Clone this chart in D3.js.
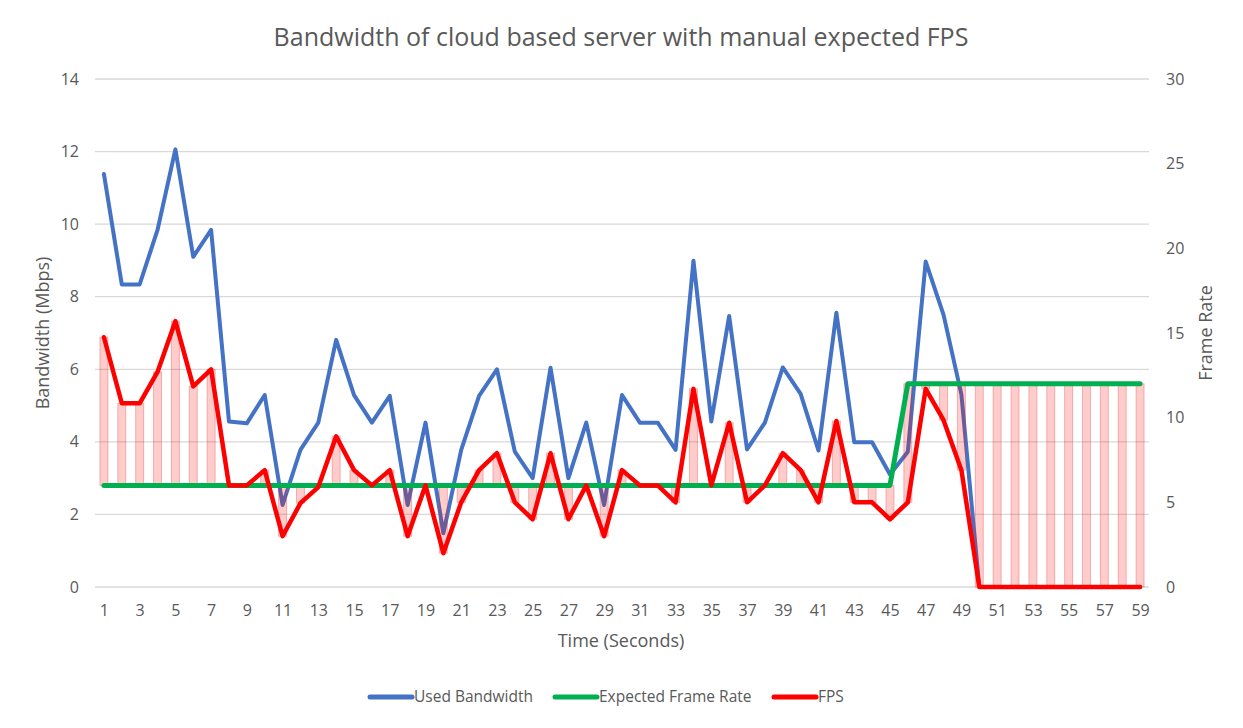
<!DOCTYPE html>
<html>
<head>
<meta charset="utf-8">
<script src="https://cdn.jsdelivr.net/npm/d3@7"></script>
<style>
  html, body { margin: 0; padding: 0; background: #ffffff; }
  svg { display: block; font-family: "Open Sans", "Segoe UI", sans-serif; }
</style>
</head>
<body>
<svg id="chart" width="1243" height="728"></svg>
<script>
// ---------------- data ----------------
const seconds = [1,2,3,4,5,6,7,8,9,10,11,12,13,14,15,16,17,18,19,20,
  21,22,23,24,25,26,27,28,29,30,31,32,33,34,35,36,37,38,39,40,
  41,42,43,44,45,46,47,48,49,50,51,52,53,54,55,56,57,58,59];

const usedBandwidth = [11.38, 8.34, 8.34, 9.84, 12.06, 9.10, 9.84, 4.56, 4.51, 5.29,
  2.26, 3.78, 4.53, 6.81, 5.29, 4.53, 5.27, 2.26, 4.53, 1.48,
  3.78, 5.27, 6.00, 3.73, 3.00, 6.04, 3.00, 4.53, 2.26, 5.29,
  4.53, 4.53, 3.78, 8.99, 4.56, 7.47, 3.79, 4.53, 6.05, 5.32,
  3.76, 7.56, 3.99, 3.99, 3.10, 3.73, 8.97, 7.50, 5.30, 0,
  0, 0, 0, 0, 0, 0, 0, 0, 0];

const expectedFrameRate = [6,6,6,6,6,6,6,6,6,6,6,6,6,6,6,6,6,6,6,6,
  6,6,6,6,6,6,6,6,6,6,6,6,6,6,6,6,6,6,6,6,
  6,6,6,6,6,12,12,12,12,12,12,12,12,12,12,12,12,12,12];

const fps = [14.75, 10.85, 10.85, 12.7, 15.7, 11.85, 12.85, 6, 6, 6.9,
  3, 4.95, 5.9, 8.9, 6.9, 6, 6.9, 3, 6, 2,
  5, 6.9, 7.9, 5, 4, 7.9, 4, 6, 3, 6.9,
  6, 6, 5, 11.7, 6, 9.7, 5, 6, 7.9, 6.9,
  5, 9.8, 5, 5, 4, 5, 11.7, 9.85, 6.9, 0,
  0, 0, 0, 0, 0, 0, 0, 0, 0];

const leftTicks = [0, 2, 4, 6, 8, 10, 12, 14];
const rightTicks = [0, 5, 10, 15, 20, 25, 30];
const xTickLabels = [1,3,5,7,9,11,13,15,17,19,21,23,25,27,29,31,33,35,37,39,41,43,45,47,49,51,53,55,57,59];

const seriesNames = ["Used Bandwidth", "Expected Frame Rate", "FPS"];
const titleText = "Bandwidth of cloud based server with manual expected FPS";
const leftAxisTitle = "Bandwidth (Mbps)";
const rightAxisTitle = "Frame Rate";
const xAxisTitle = "Time (Seconds)";

// ---------------- layout ----------------
const svg = d3.select("#chart");
const plot = { left: 95, right: 1149, top: 79, bottom: 587 };
const textColor = "#595959";
const colors = { bw: "#4472C4", exp: "#00B050", fps: "#FF0000" };

const x = d3.scalePoint().domain(seconds).range([plot.left, plot.right]).padding(0.5);
const yL = d3.scaleLinear().domain([0, 14]).range([plot.bottom, plot.top]);
const yR = d3.scaleLinear().domain([0, 30]).range([plot.bottom, plot.top]);

// gridlines
svg.append("g").selectAll("line").data(leftTicks).join("line")
  .attr("x1", plot.left).attr("x2", plot.right)
  .attr("y1", d => yL(d)).attr("y2", d => yL(d))
  .attr("stroke", "#D9D9D9").attr("stroke-width", 1.3);

// axes
const axL = svg.append("g").attr("transform", `translate(${plot.left},0)`)
  .call(d3.axisLeft(yL).tickValues(leftTicks).tickSize(0).tickPadding(16));
const axR = svg.append("g").attr("transform", `translate(${plot.right},0)`)
  .call(d3.axisRight(yR).tickValues(rightTicks).tickSize(0).tickPadding(17));
const axB = svg.append("g").attr("transform", `translate(0,${plot.bottom})`)
  .call(d3.axisBottom(x).tickValues(xTickLabels).tickSize(0).tickPadding(18));
[axL, axR, axB].forEach(a => {
  a.select(".domain").remove();
  a.selectAll("text").attr("fill", textColor).style("font-size", "16px")
    .style("font-family", '"Open Sans", sans-serif');
});

// line generators
const lineBW = d3.line().x((d, i) => x(seconds[i])).y(d => yL(d));
const lineR = d3.line().x((d, i) => x(seconds[i])).y(d => yR(d));

// used bandwidth (primary)
svg.append("path").datum(usedBandwidth)
  .attr("d", lineBW).attr("fill", "none")
  .attr("stroke", colors.bw).attr("stroke-width", 4)
  .attr("stroke-linejoin", "round").attr("stroke-linecap", "round");

// up/down bars between expected and fps
const barW = 8;
svg.append("g").selectAll("rect").data(seconds).join("rect")
  .attr("x", d => x(d) - barW / 2)
  .attr("width", barW)
  .attr("y", (d, i) => Math.min(yR(expectedFrameRate[i]), yR(fps[i])))
  .attr("height", (d, i) => Math.abs(yR(expectedFrameRate[i]) - yR(fps[i])))
  .attr("fill", "rgba(255,0,0,0.2)")
  .attr("stroke", "rgba(230,60,60,0.35)").attr("stroke-width", 1);

// expected frame rate
svg.append("path").datum(expectedFrameRate)
  .attr("d", lineR).attr("fill", "none")
  .attr("stroke", colors.exp).attr("stroke-width", 5)
  .attr("stroke-linejoin", "round").attr("stroke-linecap", "round");

// fps
svg.append("path").datum(fps)
  .attr("d", lineR).attr("fill", "none")
  .attr("stroke", colors.fps).attr("stroke-width", 4.5)
  .attr("stroke-linejoin", "round").attr("stroke-linecap", "round");

// titles
svg.append("text").attr("x", 621).attr("y", 46).attr("text-anchor", "middle")
  .attr("fill", textColor).style("font-size", "25px").text(titleText);
svg.append("text").attr("x", 621).attr("y", 647).attr("text-anchor", "middle")
  .attr("fill", textColor).style("font-size", "18px").text(xAxisTitle);
svg.append("text").attr("transform", "translate(49,333) rotate(-90)").attr("text-anchor", "middle")
  .attr("fill", textColor).style("font-size", "18px").text(leftAxisTitle);
svg.append("text").attr("transform", "translate(1212,333) rotate(-90)").attr("text-anchor", "middle")
  .attr("fill", textColor).style("font-size", "18px").text(rightAxisTitle);

// legend
const legendX = [370, 555, 774];
const legendColors = [colors.bw, colors.exp, colors.fps];
const lg = svg.append("g").selectAll("g").data(seriesNames).join("g")
  .attr("transform", (d, i) => `translate(${legendX[i]},697)`);
lg.append("line").attr("x1", 0).attr("x2", 42).attr("y1", 0).attr("y2", 0)
  .attr("stroke", (d, i) => legendColors[i]).attr("stroke-width", 5)
  .attr("stroke-linecap", "round");
lg.append("text").attr("x", 44).attr("y", 0).attr("dy", "0.35em")
  .attr("fill", textColor).style("font-size", "15.5px").text(d => d);
</script>
</body>
</html>
